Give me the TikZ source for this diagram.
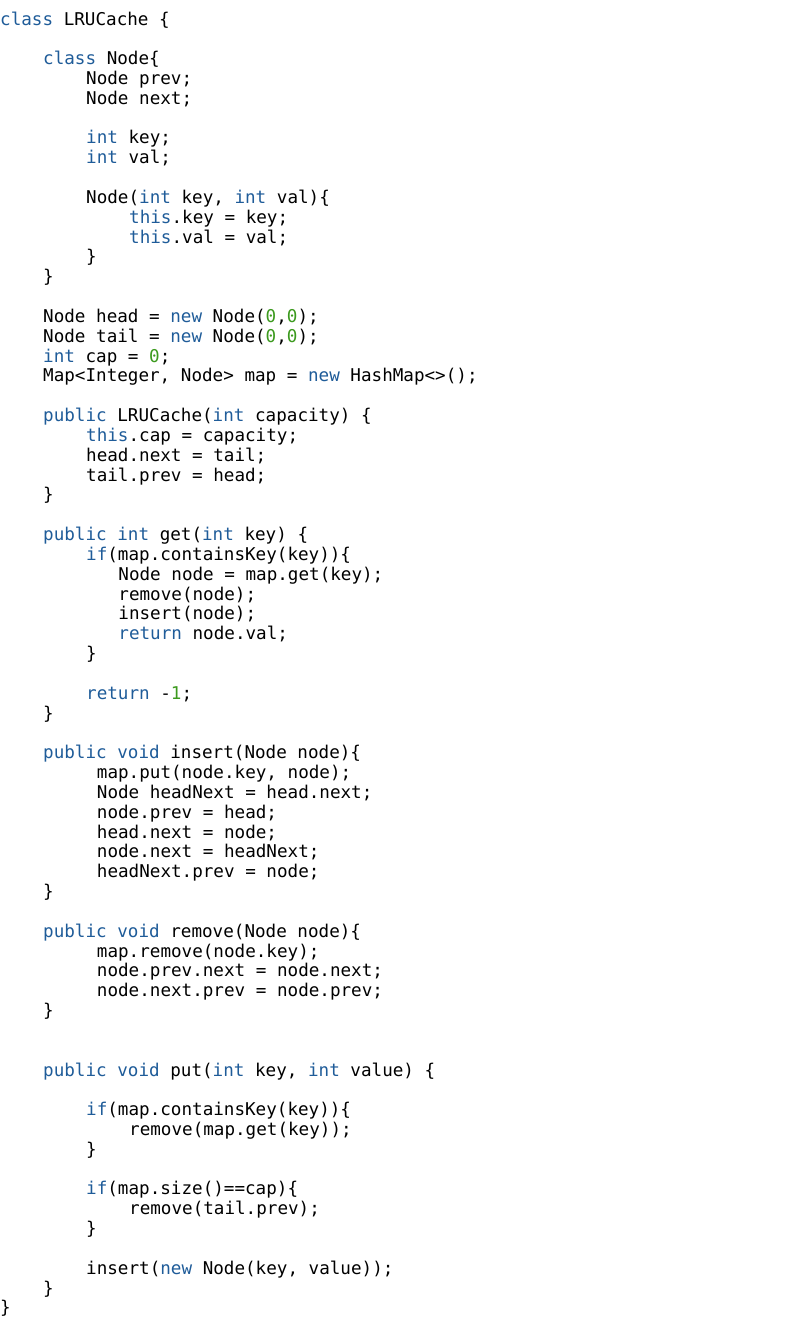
\documentclass[tikz,border=0pt]{standalone}
\usepackage{fontspec}
\setmonofont{DejaVu Sans Mono}
\definecolor{kwc}{HTML}{1F5C99}
\definecolor{numc}{HTML}{3C9A1E}
\newcommand\kw[1]{\textcolor{kwc}{#1}}
\newcommand\nm[1]{\textcolor{numc}{#1}}
\newcommand\cl[3]{\node[codeline] (l#1) at ({#2*10.75}, {-(25+19.83*#1)}) {#3};}
\begin{document}
\begin{tikzpicture}[x=1pt,y=1pt,
  codeline/.style={anchor=base west, inner sep=0pt, font=\fontsize{17.6}{20}\selectfont\ttfamily, text=black}]
\useasboundingbox[fill=white] (0,0) rectangle (788,-1320);
\cl{0}{0}{\kw{class} LRUCache \{}
\cl{2}{4}{\kw{class} Node\{}
\cl{3}{8}{Node prev;}
\cl{4}{8}{Node next;}
\cl{6}{8}{\kw{int} key;}
\cl{7}{8}{\kw{int} val;}
\cl{9}{8}{Node(\kw{int} key, \kw{int} val)\{}
\cl{10}{12}{\kw{this}.key = key;}
\cl{11}{12}{\kw{this}.val = val;}
\cl{12}{8}{\}}
\cl{13}{4}{\}}
\cl{15}{4}{Node head = \kw{new} Node(\nm{0},\nm{0});}
\cl{16}{4}{Node tail = \kw{new} Node(\nm{0},\nm{0});}
\cl{17}{4}{\kw{int} cap = \nm{0};}
\cl{18}{4}{Map<Integer, Node> map = \kw{new} HashMap<>();}
\cl{20}{4}{\kw{public} LRUCache(\kw{int} capacity) \{}
\cl{21}{8}{\kw{this}.cap = capacity;}
\cl{22}{8}{head.next = tail;}
\cl{23}{8}{tail.prev = head;}
\cl{24}{4}{\}}
\cl{26}{4}{\kw{public} \kw{int} get(\kw{int} key) \{}
\cl{27}{8}{\kw{if}(map.containsKey(key))\{}
\cl{28}{11}{Node node = map.get(key);}
\cl{29}{11}{remove(node);}
\cl{30}{11}{insert(node);}
\cl{31}{11}{\kw{return} node.val;}
\cl{32}{8}{\}}
\cl{34}{8}{\kw{return} -\nm{1};}
\cl{35}{4}{\}}
\cl{37}{4}{\kw{public} \kw{void} insert(Node node)\{}
\cl{38}{9}{map.put(node.key, node);}
\cl{39}{9}{Node headNext = head.next;}
\cl{40}{9}{node.prev = head;}
\cl{41}{9}{head.next = node;}
\cl{42}{9}{node.next = headNext;}
\cl{43}{9}{headNext.prev = node;}
\cl{44}{4}{\}}
\cl{46}{4}{\kw{public} \kw{void} remove(Node node)\{}
\cl{47}{9}{map.remove(node.key);}
\cl{48}{9}{node.prev.next = node.next;}
\cl{49}{9}{node.next.prev = node.prev;}
\cl{50}{4}{\}}
\cl{53}{4}{\kw{public} \kw{void} put(\kw{int} key, \kw{int} value) \{}
\cl{55}{8}{\kw{if}(map.containsKey(key))\{}
\cl{56}{12}{remove(map.get(key));}
\cl{57}{8}{\}}
\cl{59}{8}{\kw{if}(map.size()==cap)\{}
\cl{60}{12}{remove(tail.prev);}
\cl{61}{8}{\}}
\cl{63}{8}{insert(\kw{new} Node(key, value));}
\cl{64}{4}{\}}
\cl{65}{0}{\}}
\end{tikzpicture}
\end{document}
